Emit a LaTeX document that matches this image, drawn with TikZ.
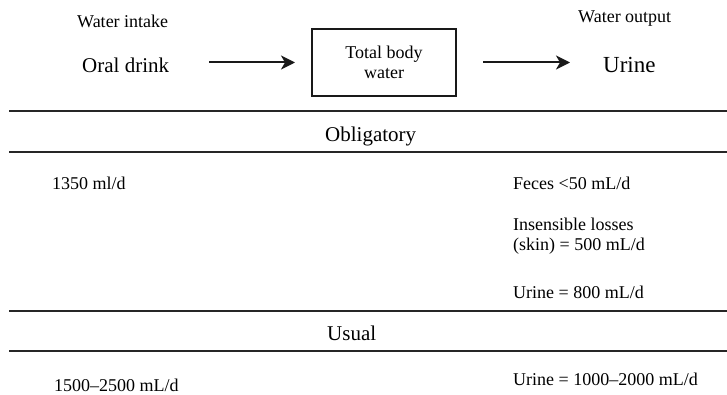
\documentclass[tikz,border=0pt]{standalone}
\usepackage{fontspec}
\setmainfont{Liberation Serif}
\usetikzlibrary{arrows.meta}
\begin{document}
\begin{tikzpicture}[x=1pt,y=-1pt,
  lbl/.style={inner sep=0pt, anchor=base west, font=\fontsize{18}{20}\selectfont},
  big/.style={inner sep=0pt, anchor=base west, font=\fontsize{21}{24}\selectfont},
  rulebar/.style={line width=2pt, draw=black!85},
  flow/.style={line width=2pt, draw=black!90, -{Stealth[length=14pt,width=14pt,inset=4pt]}}]
\useasboundingbox (0,0) rectangle (727,395);

% header
\node[lbl] (wi) at (77,27.3) {Water intake};
\node[lbl] (wo) at (578,22.7) {Water output};
\node[big] (oral) at (82,73) {Oral drink};
\node[big, font=\fontsize{23}{26}\selectfont] (urine) at (603,73) {Urine};
\node[draw=black!90, line width=2pt, minimum width=144pt, minimum height=67pt,
      inner sep=0pt, align=center, font=\fontsize{18}{20}\selectfont] (tbw) at (384,62.5) {Total body\\water};

\draw[flow] ([xshift=40pt]oral.east |- tbw.west) -- ([xshift=-16pt]tbw.west);
\draw[flow] ([xshift=26pt]tbw.east) -- ([xshift=-33pt]urine.west |- tbw.east);

% rules
\draw[rulebar] (9,111) -- (727,111);
\draw[rulebar] (9,152) -- (727,152);
\draw[rulebar] (9,311) -- (727,311);
\draw[rulebar] (9,351) -- (727,351);

% section titles
\node[big] (obl) at (325,142) {Obligatory};
\node[big] (usu) at (327,340) {Usual};

% obligatory
\node[lbl] (in1) at (52,190) {1350 ml/d};
\node[lbl] (feces) at (513,190) {Feces <50 mL/d};
\node[lbl] (ins1) at (513,230.7) {Insensible losses};
\node[lbl] (ins2) at (513,250.5) {(skin) = 500 mL/d};
\node[lbl] (ur1) at (513,298.5) {Urine = 800 mL/d};

% usual
\node[lbl] (in2) at (54,391.7) {1500–2500 mL/d};
\node[lbl] (ur2) at (513,385.7) {Urine = 1000–2000 mL/d};
\end{tikzpicture}
\end{document}
